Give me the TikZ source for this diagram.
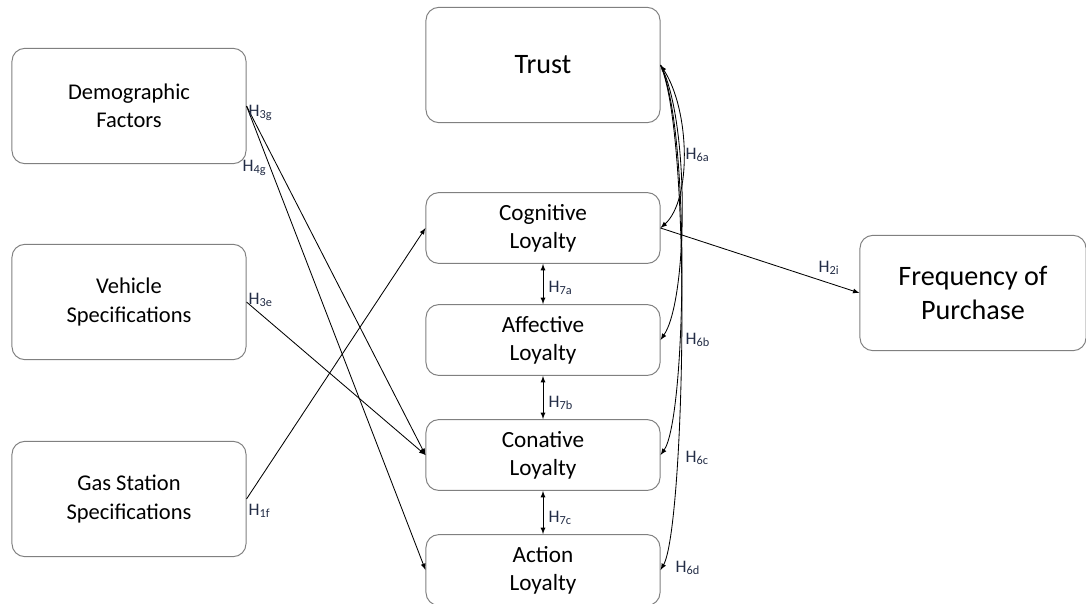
\documentclass[tikz,border=0pt]{standalone}
\usepackage{fontspec}
\setmainfont{Carlito}
\usepackage{tikz}

\begin{document}
\begin{tikzpicture}[x=0.025cm,y=-0.025cm,>=latex,
        big/.style = {draw=gray, line width=0.7pt, rounded corners=0.32cm, minimum width=5.85cm, minimum height=2.88cm, align=center, font=\fontsize{16}{20}\selectfont},
        small/.style = {draw=gray, line width=0.7pt, rounded corners=0.32cm, minimum width=5.85cm, minimum height=1.77cm, align=center, font=\fontsize{16.5}{20}\selectfont},
        hlab/.style = {anchor=west, inner sep=1pt, text={rgb,255:red,35;green,45;blue,70}, font=\fontsize{12.5}{14}\selectfont},
        link/.style = {->, line width=0.6pt}]
        \useasboundingbox (0,0) rectangle (1086,604);
        \node[big] (demo) at (129,106) {Demographic\\Factors};
        \node[big] (vehicle) at (129,302) {Vehicle\\Specifications};
        \node[big] (gas) at (129,499) {Gas Station\\Specifications};
        \node[big, font=\fontsize{20}{24}\selectfont] (trust) at (543,65) {Trust};
        \node[small] (cog) at (543,228) {Cognitive\\Loyalty};
        \node[small] (aff) at (543,340) {Affective\\Loyalty};
        \node[small] (con) at (543,455) {Conative\\Loyalty};
        \node[small] (act) at (543,570) {Action\\Loyalty};
        \node[big, minimum width=5.65cm, font=\fontsize{20}{24}\selectfont] (freq) at (973,293) {Frequency of\\Purchase};
        \draw[link] (demo.east) -- (con.west);
        \draw[link] (demo.east) -- (act.west);
        \draw[link] (vehicle.east) -- (con.west);
        \draw[link] (gas.east) -- (cog.west);
        \draw[link] (cog.east) -- (freq.west);
        \draw[link, <->] (trust.east) .. controls (690,110) and (692,200) .. (cog.east);
        \draw[link] (trust.east) .. controls (690,120) and (688,300) .. (aff.east);
        \draw[link] (trust.east) .. controls (691,130) and (686,420) .. (con.east);
        \draw[link] (trust.east) .. controls (693,140) and (684,530) .. (act.east);
        \draw[link, <->] (cog.south) -- (aff.north);
        \draw[link, <->] (aff.south) -- (con.north);
        \draw[link, <->] (con.south) -- (act.north);
        \node[hlab] (h3g) at (247,113) {H\textsubscript{3g}};
        \node[hlab] (h4g) at (241,168) {H\textsubscript{4g}};
        \node[hlab] (h3e) at (247,300) {H\textsubscript{3e}};
        \node[hlab] (h1f) at (247,511) {H\textsubscript{1f}};
        \node[hlab] (h6a) at (684,155) {H\textsubscript{6a}};
        \node[hlab] (h6b) at (684,340) {H\textsubscript{6b}};
        \node[hlab] (h6c) at (684,458) {H\textsubscript{6c}};
        \node[hlab] (h6d) at (674,568) {H\textsubscript{6d}};
        \node[hlab] (h7a) at (547,288) {H\textsubscript{7a}};
        \node[hlab] (h7b) at (547,403) {H\textsubscript{7b}};
        \node[hlab] (h7c) at (547,518) {H\textsubscript{7c}};
        \node[hlab] (h2i) at (817,268) {H\textsubscript{2i}};
\end{tikzpicture}
\end{document}
